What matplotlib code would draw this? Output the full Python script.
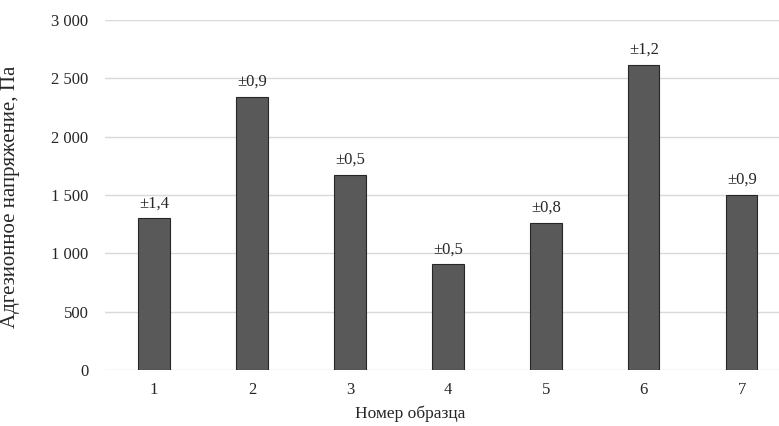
import matplotlib.pyplot as plt
from matplotlib.ticker import FuncFormatter

# Данные
samples = ['1', '2', '3', '4', '5', '6', '7']
stress = [1300, 2340, 1675, 905, 1260, 2615, 1500]
errors = ['±1,4', '±0,9', '±0,5', '±0,5', '±0,8', '±1,2', '±0,9']

plt.rcParams['font.family'] = ['Liberation Serif', 'DejaVu Serif']

fig = plt.figure(figsize=(7.79, 4.26), dpi=100)
ax = fig.add_axes([105 / 779, 1 - 370 / 426, 1 - 105 / 779, 350 / 426])

x = range(len(samples))
ax.bar(x, stress, width=0.32, color='#595959', edgecolor='#262626', linewidth=0.8, zorder=3)

for xi, v, e in zip(x, stress, errors):
    ax.annotate(e, (xi, v), xytext=(0, 5), textcoords='offset points',
                ha='center', va='bottom', fontsize=12, color='#262626')

ax.set_xlim(-0.5, 6.38)
ax.set_ylim(0, 3000)
ax.set_yticks(range(0, 3001, 500))
ax.yaxis.set_major_formatter(FuncFormatter(lambda v, p: f"{int(v):,}".replace(',', ' ')))
ax.set_xticks(list(x))
ax.set_xticklabels(samples)

ax.grid(axis='y', color='#d9d9d9', linewidth=1, zorder=0)
for s in ['top', 'right', 'left', 'bottom']:
    ax.spines[s].set_visible(False)
ax.tick_params(length=0, labelsize=12, colors='#262626')
ax.tick_params(axis='y', pad=12)
ax.tick_params(axis='x', pad=9)

ax.set_ylabel('Адгезионное напряжение, Па', fontsize=15, color='#262626')
ax.yaxis.set_label_coords(-0.126, 0.494)
ax.set_xlabel('Номер образца', fontsize=12.5, color='#262626', va='center')
ax.xaxis.set_label_coords(0.4525, -0.125)

plt.savefig('out.png', dpi=100)
